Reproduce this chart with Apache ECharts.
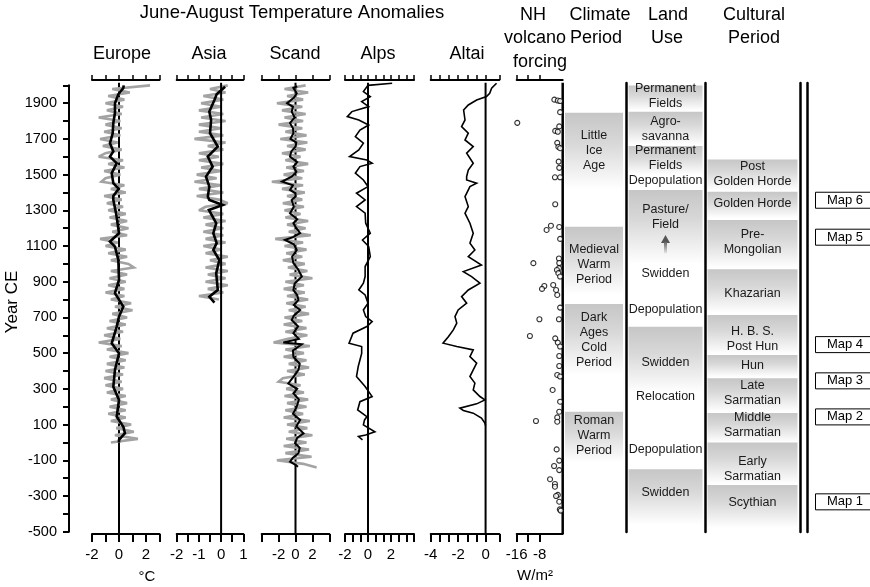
<!DOCTYPE html>
<html><head><meta charset="utf-8">
<script src="https://cdn.jsdelivr.net/npm/echarts@6.0.0/dist/echarts.min.js"></script>
<style>html,body{margin:0;padding:0;background:#fff}#c{width:870px;height:587px}</style>
</head><body><div id="c"></div>
<script>
const FONT = '"Liberation Sans", Arial, Helvetica, sans-serif';

// ---------- shared year axis ----------
const Y_MIN = -513, Y_MAX = 2030;        // panel grids (axis lines at top/bottom)
const COL_Y_MIN = -502, COL_Y_MAX = 2014; // column grids
const ZERO_TOP = 2014;
const yTicks = [-500,-400,-300,-200,-100,0,100,200,300,400,500,600,700,800,900,1000,1100,1200,1300,1400,1500,1600,1700,1800,1900,2000];
const yTickLabels = [-500,-300,-100,100,300,500,700,900,1100,1300,1500,1700,1900];

// ---------- x tick arrays ----------
const eurTicks = [-2,-1,0,1,2,3], eurLabels = [-2,0,2];
const asiaTicks = [-2,-1.5,-1,-0.5,0,0.5,1], asiaLabels = [-2,-1,0,1];
const scandTicks = [-4,-2,0,2,4], scandLabels = [-2,0,2];
const alpsTicks = [-2,-1.333,-0.667,0,0.667,1.333,2,2.667,3.333,4], alpsLabels = [-2,0,2];
const altaiTicks = [-4,-3.333,-2.667,-2,-1.333,-0.667,0,1], altaiLabels = [-4,-2,0];
const volcTicks = [-16,-12,-8], volcLabels = [-16,-8];

// ---------- gray (annual-ish) series, every 20 years from 2000 downward ----------
const GRAY_START = 2000, GRAY_STEP = 20;
const eurGray = [2.3,-0.5,0.8,-0.8,0.4,-1.0,0.3,-0.9,0.2,-1.5,0.1,-1.0,0.2,-1.1,0.1,-1.4,-0.1,-1.2,0.2,-1.0,
  -1.5,0.3,-0.8,0.4,-1.1,0.1,-1.0,-1.3,0.4,-0.6,0.5,-1.1,0.2,-0.9,0.3,-0.8,0.5,-0.7,0.6,-0.6,
  0.7,-0.5,0.6,-1.4,-0.1,-1.0,0.5,-0.8,0.6,-0.6,0.7,1.1,-0.6,0.6,-0.7,0.5,-0.8,0.4,-1.0,0.4,
  -0.6,0.9,-0.3,1.0,-0.5,0.6,-0.7,0.5,-0.9,0.3,-1.1,0.1,-1.5,0.2,-0.9,0.7,-0.7,0.5,-0.9,0.4,
  -1.0,0.3,-1.1,0.2,-1.0,0.3,-0.9,0.5,-0.6,0.6,-0.7,0.5,-0.8,0.5,-0.6,0.9,-0.2,1.1,-0.3,1.4,-0.6];
const asiaGray = [0.3,-0.5,0.2,-0.8,0.1,-0.9,0.0,-1.0,0.1,-0.9,0.2,-1.0,0.0,-1.0,0.1,-1.2,0.2,-0.6,0.1,-1.0,
  -0.1,-1.0,0.1,-0.9,0.0,-1.1,-0.2,-1.2,0.0,-1.0,0.1,-1.1,-0.1,0.3,-0.7,-1.0,0.1,-0.8,0.2,-0.7,
  0.1,-0.8,0.1,-0.7,0.2,-0.8,0.0,-0.7,0.3,-0.5,0.2,-0.7,0.3,-0.6,0.2,-0.7,0.3,-0.6,0.1,-1.0,-0.1];
const scandGray = [1.2,-1.3,1.5,-1.0,0.9,-2.2,0.8,-1.6,1.2,-1.3,0.9,-2.0,0.8,-1.2,1.3,-1.8,1.4,-1.0,1.2,-1.6,
  0.6,-1.2,1.5,-1.1,1.0,-1.4,0.8,-2.8,0.9,-1.6,1.1,-1.0,0.8,-1.5,1.0,-1.3,0.6,-1.2,1.5,-1.0,
  1.2,-0.8,1.8,-2.4,0.9,-1.3,1.3,-1.1,0.8,-1.5,1.1,-0.9,1.4,-0.7,2.0,-1.2,1.0,-1.4,1.1,-1.0,
  1.5,-1.1,1.2,-0.8,1.6,-1.3,0.8,-1.4,1.3,-1.2,1.4,-0.9,-2.6,1.7,-1.2,1.0,-1.4,1.3,-0.8,1.6,
  -1.0,1.1,-1.5,-2.0,0.6,-1.1,1.0,-1.3,1.5,-1.0,1.3,-1.2,0.9,-1.4,1.7,-1.0,1.4,-0.8,2.0,-1.1,
  1.3,-1.4,1.6,-1.2,1.9,-2.2,0.9,2.5];

// ---------- smoothed series ----------
const eurSmoothYears = [2000,1985,1950,1900,1845,1790,1730,1676,1630,1601,1564,1508,1452,1420,1380,1358,1284,1172,1125,1097,1022,910,836,761,705,649,555,499,406,312,238,144,88,52,14,0];
const eurSmooth = [0.35,0.32,-0.05,-0.3,-0.3,-0.42,-0.47,-0.67,-0.42,-0.67,-0.17,-0.54,-0.42,-0.02,-0.42,-0.42,-0.22,0,-0.67,-0.3,-0.05,0,-0.3,0.32,0,-0.17,-0.54,0,-0.3,-0.42,0,-0.17,0.32,0.44,0,0];
const asiaSmoothYears = [1992,1950,1918,1853,1806,1732,1657,1601,1545,1489,1433,1377,1358,1330,1302,1228,1172,1116,1078,1022,948,854,816,783];
const asiaSmooth = [0.18,-0.2,-0.3,-0.53,-0.45,-0.5,-0.15,-0.6,-0.38,-0.68,-0.53,-0.6,-0.53,0.08,-0.55,-0.22,-0.35,-0.2,-0.35,-0.08,-0.22,-0.15,-0.53,-0.3];
const scandSmoothYears = [1995,1985,1956,1930,1900,1880,1853,1820,1788,1760,1732,1700,1680,1657,1630,1601,1570,1545,1515,1489,1461,1440,1414,1395,1377,1358,1320,1284,1250,1228,1200,1172,1150,1134,1110,1078,1040,1004,970,929,890,854,825,798,770,742,710,686,650,612,580,560,550,515,480,440,406,370,330,300,275,240,200,160,126,90,51,25,-5,-30,-61,-85,-108,-126,-136];
const scandSmooth = [0.2,-0.25,0.15,-0.2,-1.0,-0.3,-0.45,-0.1,-0.65,-0.3,-0.25,-0.6,0.1,0,-0.5,-0.65,0.2,-0.25,0.1,-0.45,-1.6,-0.3,-0.65,0,0,-0.45,-0.2,-0.65,0.2,-0.25,0.1,0.55,-0.3,-1.25,-0.2,0.15,-0.4,-0.25,0.3,0.75,-0.1,-0.25,0.2,0.35,-0.2,0.55,-0.2,-0.45,0.3,-0.25,0.4,-1.45,0.75,-0.3,-0.25,0.5,0.35,-0.2,-0.85,0.2,-0.25,0.4,0.15,-0.3,0.55,0.1,0.95,0.2,-0.05,0.5,0.35,-0.3,-0.65,0,0.3];
const alpsYears = [2012,2000,1965,1937,1909,1881,1853,1825,1806,1778,1750,1713,1676,1638,1601,1582,1564,1545,1508,1470,1433,1396,1358,1321,1284,1228,1172,1134,1097,1041,985,929,892,854,826,780,742,705,677,649,612,556,537,499,462,425,369,313,257,228,182,144,126,98,60,42,33,14];
const alpsVals = [2.1,0,-0.4,0.2,-0.55,0.06,-1.4,-1.8,-0.8,0.06,-0.7,-1.1,-0.4,-0.8,-1.6,-0.1,0.36,-0.7,-1.1,-0.4,0,-1.0,-0.25,-1.0,-0.25,-0.2,0.2,-0.48,0.06,0.2,-0.25,-0.25,-0.4,-0.8,-0.25,0,-0.4,-0.2,0.36,-0.1,-1.3,-1.65,-0.55,-0.55,-0.7,-0.85,-1.0,-0.25,0.36,-0.7,-0.9,-0.1,-0.3,-0.4,0.6,-0.2,-0.83,-0.48];
const altaiYears = [2012,1984,1956,1937,1918,1890,1862,1806,1769,1732,1694,1657,1620,1564,1526,1489,1470,1452,1433,1377,1321,1284,1228,1172,1116,1078,1041,994,957,929,892,854,817,780,742,705,668,630,593,556,537,518,481,444,406,369,332,294,257,238,216,192,179,164,136,108,95];
const altaiVals = [0.8,0.44,0.3,0.07,-0.65,-1.26,-1.6,-1.5,-1.75,-1.26,-1.5,-0.9,-1.38,-0.9,-1.26,-1.38,-1.38,-0.65,-1.14,-1.5,-1.26,-1.5,-1.14,-0.9,-1.14,-0.78,-1.26,-0.3,-1.62,-1.02,-0.41,-1.26,-1.75,-1.38,-2.0,-2.23,-2.1,-2.35,-2.7,-3.1,-2.1,-0.9,-1.14,-0.65,-0.9,-1.14,-0.78,-0.9,-0.41,-0.05,-0.65,-1.87,-1.62,-0.9,-0.3,-0.05,0];

// ---------- volcanic forcing (W/m2) ----------
const volcYears = [1920,1915,1912,1850,1790,1770,1745,1740,1678,1655,1648,1573,1538,1485,1485,1334,1214,1207,1190,1140,1030,1005,1004,976,966,948,929,882,876,860,854,826,755,690,690,596,583,559,537,484,428,378,369,294,228,172,140,120,116,-39,-102,-132,-155,-206,-233,-248,-294,-300,-332,-375,-382];
const volcVals = [-2.9,-1.7,-0.9,-0.9,-15.8,-1.2,-2.6,-1.7,-1.9,-1.5,-0.9,-1.4,-1.2,-2.7,-0.9,-2.6,-4.1,-1.2,-5.6,-0.9,-1.3,-1.2,-10.2,-1.3,-2.0,-1.5,-0.9,-3.3,-6.4,-7.2,-2.3,-1.9,-0.9,-8.1,-1.3,-11.4,-2.6,-1.7,-0.9,-1.2,-1.2,-1.9,-0.9,-3.5,-0.9,-1.2,-1.9,-9.3,-1.9,-2.1,-1.2,-3.0,-1.2,-4.4,-2.7,-2.7,-1.7,-2.3,-1.2,-1.0,-0.7];

// ---------- period columns: [topYear, bottomYear] ----------
const climBoxes = [[1847,1420],[1209,830],[776,380],[172,-110]];
const climLabelYears = [1638,994,574,38];
const climLabels = ['Little\nIce\nAge','Medieval\nWarm\nPeriod','Dark\nAges\nCold\nPeriod','Roman\nWarm\nPeriod'];

const landBoxes = [[2000,1860],[1853,1668],[1661,1500],[1414,1000],[648,280],[-150,-462]];
const landLabelYears = [1939,1756,1596,1470,1263,948,742,445,256,-42,-281];
const landLabels = ['Permanent\nFields','Agro-\nsavanna','Permanent\nFields','Depopulation','Pasture/\nField','Swidden','Depopulation','Swidden','Relocation','Depopulation','Swidden'];
const landArrow = [[1162,1060]];

const cultBoxes = [[1586,1414],[1405,1257],[1246,977],[970,725],[714,495],[490,367],[359,171],[165,2],[-1,-233],[-238,-479]];
const cultLabelYears = [1503,1336,1125,832,578,430,276,95,-150,-335];
const cultLabels = ['Post\nGolden Horde','Golden Horde','Pre-\nMongolian','Khazarian','H. B. S.\nPost Hun','Hun','Late\nSarmatian','Middle\nSarmatian','Early\nSarmatian','Scythian'];

const mapYears = [1357,1150,548,345,143,-333];
const mapLabels = ['Map 6','Map 5','Map 4','Map 3','Map 2','Map 1'];

// ---------- build option ----------
const pairs = (xs, ys) => xs.map((v, i) => [v, ys[i]]);
const grayPairs = arr => arr.map((v, i) => [v, GRAY_START - i * GRAY_STEP]);

const panels = [
  {left:92,    width:67.5, min:-2,  max:3, ticks:eurTicks,   labels:eurLabels},
  {left:176.7, width:66.6, min:-2,  max:1, ticks:asiaTicks,  labels:asiaLabels},
  {left:261.7, width:67.6, min:-4,  max:4, ticks:scandTicks, labels:scandLabels},
  {left:345,   width:69,   min:-2,  max:4, ticks:alpsTicks,  labels:alpsLabels},
  {left:430.7, width:68.6, min:-4,  max:1, ticks:altaiTicks, labels:altaiLabels},
  {left:516.7, width:46,   min:-16, max:0, ticks:volcTicks,  labels:volcLabels}
];

const grid = [{left:69, top:85.36, bottom:55.3, width:1, outerBoundsMode:'none', containLabel:false}];
const xAxis = [{gridIndex:0, type:'value', min:0, max:1, show:false}];
const yAxis = [{gridIndex:0, type:'value', min:-500, max:2000, position:'left',
  axisLine:{show:true, onZero:false, lineStyle:{color:'#000', width:2}},
  axisTick:{show:true, length:6, customValues:yTicks, lineStyle:{color:'#000', width:2}},
  axisLabel:{show:true, customValues:yTickLabels, formatter:v => String(v), color:'#000', fontSize:14.5, fontFamily:FONT, margin:12},
  splitLine:{show:false}}];

panels.forEach((p, i) => {
  const g = i + 1;
  grid.push({left:p.left, width:p.width, top:80, bottom:53, outerBoundsMode:'none', containLabel:false});
  xAxis.push({gridIndex:g, type:'value', min:p.min, max:p.max, position:'bottom',
    axisLine:{show:true, onZero:false, lineStyle:{color:'#000', width:2}},
    axisTick:{show:true, length:8, customValues:p.ticks, lineStyle:{color:'#000', width:2}},
    axisLabel:{show:true, customValues:p.labels, formatter:v => String(v), color:'#000', fontSize:15, fontFamily:FONT, margin:13},
    splitLine:{show:false}});
  xAxis.push({gridIndex:g, type:'value', min:p.min, max:p.max, position:'top',
    axisLine:{show:true, onZero:false, lineStyle:{color:'#000', width:2}},
    axisTick:{show:true, length:5, customValues:p.ticks, lineStyle:{color:'#000', width:1.5}},
    axisLabel:{show:false}, splitLine:{show:false}});
  yAxis.push({gridIndex:g, type:'value', min:Y_MIN, max:Y_MAX, show:false});
});

// column grids: 7 clim, 8 land, 9 cult, 10 map
const colDefs = [{left:565, width:58}, {left:626, width:79}, {left:705, width:95}, {left:807, width:63}];
colDefs.forEach((c, k) => {
  grid.push({left:c.left, width:c.width, top:83, bottom:55, outerBoundsMode:'none', containLabel:false});
  xAxis.push({gridIndex:7 + k, type:'value', min:0, max:1, show:false});
});
const colLine = {show:true, onZero:false, lineStyle:{color:'#000', width:2.5}};
const colAxis = (g, pos, line) => ({gridIndex:g, type:'value', min:COL_Y_MIN, max:COL_Y_MAX, position:pos,
  show: !!line, axisLine: line ? colLine : {show:false, onZero:false}, axisTick:{show:false}, axisLabel:{show:false}, splitLine:{show:false}});
yAxis.push(colAxis(7, 'left', false));   // 7 clim
yAxis.push(colAxis(8, 'left', true));    // 8 land left line
yAxis.push(colAxis(8, 'right', true));   // 9 land right line
yAxis.push(colAxis(9, 'right', true));   // 10 cult right line
yAxis.push(colAxis(10, 'left', true));   // 11 map left line

const series = [];
const line = (xi, yi, data, color, width, z) => ({type:'line', xAxisIndex:xi, yAxisIndex:yi, data,
  symbol:'none', showSymbol:false, silent:true, z, lineStyle:{color, width, join:'miter', miterLimit:3}, animation:false});
const zeroLine = [[0, Y_MIN],[0, ZERO_TOP]];
const GRAY = '#a3a3a3', GRAY_W = 2.6;

// Europe (grid1: xAxis 1)
series.push(line(1, 1, zeroLine, '#000', 2, 1));
series.push(line(1, 1, grayPairs(eurGray), GRAY, GRAY_W, 2));
series.push(line(1, 1, pairs(eurSmooth, eurSmoothYears), '#000', 2.6, 4));
// Asia (xAxis 3)
series.push(line(3, 2, grayPairs(asiaGray), GRAY, GRAY_W, 2));
series.push(line(3, 2, zeroLine, '#000', 2, 3));
series.push(line(3, 2, pairs(asiaSmooth, asiaSmoothYears), '#000', 2.6, 4));
// Scand (xAxis 5)
series.push(line(5, 3, zeroLine, '#000', 2, 1));
series.push(line(5, 3, grayPairs(scandGray), GRAY, GRAY_W, 2));
series.push(line(5, 3, pairs(scandSmooth, scandSmoothYears), '#000', 2, 4));
// Alps (xAxis 7)
series.push(line(7, 4, zeroLine, '#000', 2, 1));
series.push(line(7, 4, pairs(alpsVals, alpsYears), '#000', 1.6, 4));
// Altai (xAxis 9)
series.push(line(9, 5, zeroLine, '#000', 2, 1));
series.push(line(9, 5, pairs(altaiVals, altaiYears), '#000', 1.6, 4));
// Volcano (xAxis 11)
series.push(line(11, 6, zeroLine, '#000', 2.5, 1));
series.push({type:'scatter', xAxisIndex:11, yAxisIndex:6, data:pairs(volcVals, volcYears), symbol:'circle', symbolSize:5,
  silent:true, z:4, itemStyle:{color:'#fff', borderColor:'#000', borderWidth:1.1}, animation:false});

const boxFill = {type:'linear', x:0, y:0, x2:0, y2:1, colorStops:[
  {offset:0, color:'#c6c6c6'}, {offset:0.4, color:'#d8d8d8'}, {offset:1, color:'#ffffff'}]};
const boxSeries = (xi, yi, boxes, inset) => ({type:'custom', xAxisIndex:xi, yAxisIndex:yi, data:boxes, silent:true, clip:false, z:1, animation:false,
  renderItem:(params, api) => {
    const a = api.coord([0, api.value(0)]);
    const b = api.coord([1, api.value(1)]);
    return {type:'rect', shape:{x:a[0] + inset, y:a[1], width:b[0] - a[0] - 2 * inset, height:b[1] - a[1]}, style:{fill:boxFill}};
  }});
const textSeries = (xi, yi, years, labels) => ({type:'custom', xAxisIndex:xi, yAxisIndex:yi, data:years.map(y => [y]), silent:true, clip:false, z:3, animation:false,
  renderItem:(params, api) => {
    const p = api.coord([0.5, api.value(0)]);
    return {type:'text', x:p[0], y:p[1], style:{text:labels[params.dataIndex], fill:'#1a1a1a', fontSize:12.5, fontFamily:FONT,
      align:'center', verticalAlign:'middle', textAlign:'center', textVerticalAlign:'middle', lineHeight:15}};
  }});

series.push(boxSeries(13, 7, climBoxes, 0));
series.push(textSeries(13, 7, climLabelYears, climLabels));
series.push(boxSeries(14, 8, landBoxes, 2.5));
series.push(textSeries(14, 8, landLabelYears, landLabels));
series.push({type:'custom', xAxisIndex:14, yAxisIndex:8, data:landArrow, silent:true, clip:false, z:3, animation:false,
  renderItem:(params, api) => {
    const a = api.coord([0.5, api.value(0)]);
    const b = api.coord([0.5, api.value(1)]);
    return {type:'group', children:[
      {type:'polygon', shape:{points:[[a[0], a[1]], [a[0] - 4.5, a[1] + 8], [a[0] + 4.5, a[1] + 8]]}, style:{fill:'#555'}},
      {type:'rect', shape:{x:a[0] - 1.5, y:a[1] + 7, width:3, height:b[1] - a[1] - 7},
        style:{fill:{type:'linear', x:0, y:0, x2:0, y2:1, colorStops:[{offset:0, color:'#666'}, {offset:1, color:'#e6e6e6'}]}}}
    ]};
  }});
series.push(boxSeries(15, 10, cultBoxes, 2.5));
series.push(textSeries(15, 10, cultLabelYears, cultLabels));
series.push({type:'custom', xAxisIndex:16, yAxisIndex:11, data:mapYears.map(y => [y]), silent:true, clip:false, z:3, animation:false,
  renderItem:(params, api) => {
    const p = api.coord([0, api.value(0)]);
    return {type:'group', children:[
      {type:'rect', shape:{x:p[0] + 8.5, y:p[1] - 8, width:64, height:16}, style:{fill:'#fff', stroke:'#000', lineWidth:1}},
      {type:'text', x:p[0] + 38, y:p[1], style:{text:mapLabels[params.dataIndex], fill:'#000', fontSize:13, fontFamily:FONT,
        align:'center', verticalAlign:'middle', textAlign:'center', textVerticalAlign:'middle'}}
    ]};
  }});

const T = (text, x, y, size, extra) => Object.assign({type:'text', x, y, silent:true,
  style:{text, fill:'#000', fontSize:size, fontFamily:FONT, align:'center', verticalAlign:'middle', textAlign:'center', textVerticalAlign:'middle'}}, extra || {});
const graphic = [
  T('June-August Temperature Anomalies', 292, 13, 18.5),
  T('Europe', 122, 54, 18), T('Asia', 209, 54, 18), T('Scand', 295, 54, 18), T('Alps', 378, 54, 18), T('Altai', 467, 54, 18),
  T('NH', 533, 15, 18), T('volcano', 535, 38, 18), T('forcing', 540, 62, 18),
  T('Climate', 600, 15, 18), T('Period', 596, 38, 18),
  T('Land', 668, 15, 18), T('Use', 667, 38, 18),
  T('Cultural', 754, 15, 18), T('Period', 754, 38, 18),
  T('Year CE', 12, 302, 17, {rotation: Math.PI / 2}),
  T('°C', 147, 577, 15),
  T('W/m²', 535, 576, 15)
];

const chart = echarts.init(document.getElementById('c'));
chart.setOption({animation:false, backgroundColor:'#fff', textStyle:{fontFamily:FONT}, grid, xAxis, yAxis, series, graphic});
</script></body></html>
